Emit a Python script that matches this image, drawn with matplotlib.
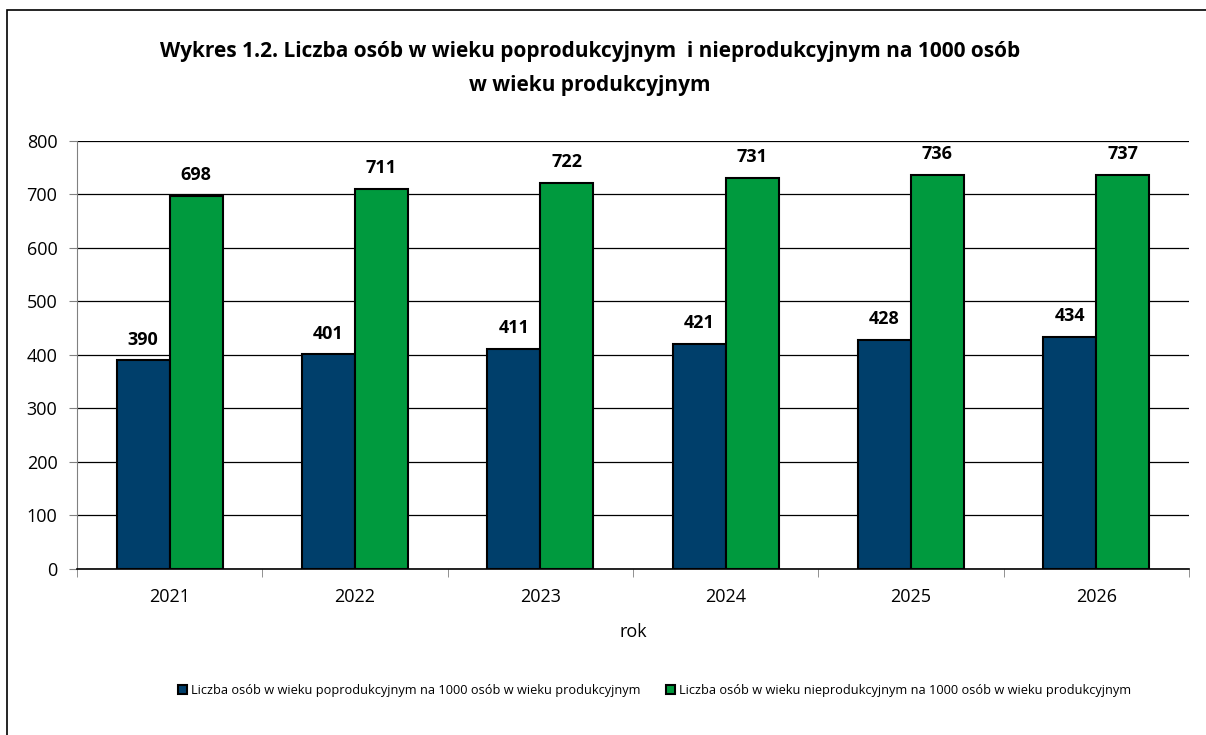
import numpy as np
import matplotlib.pyplot as plt
from matplotlib.patches import Rectangle

plt.rcParams['font.family'] = ['Open Sans', 'DejaVu Sans']

years = ['2021', '2022', '2023', '2024', '2025', '2026']
poprod = [390, 401, 411, 421, 428, 434]
nieprod = [698, 711, 722, 731, 736, 737]
label_poprod = 'Liczba osób w wieku poprodukcyjnym na 1000 osób w wieku produkcyjnym'
label_nieprod = 'Liczba osób w wieku nieprodukcyjnym na 1000 osób w wieku produkcyjnym'

blue = '#003f6b'
green = '#009a3e'

fig = plt.figure(figsize=(12.06, 7.35), dpi=100)
ax = fig.add_axes([0.0638, 0.2259, 0.922, 0.5823])

x = np.arange(len(years))
w = 1 / 3.5
b1 = ax.bar(x - w / 2, poprod, w, color=blue, edgecolor='black', linewidth=1.5, label=label_poprod, zorder=3)
b2 = ax.bar(x + w / 2, nieprod, w, color=green, edgecolor='black', linewidth=1.5, label=label_nieprod, zorder=3)

for bars in (b1, b2):
    for r in bars:
        ax.text(r.get_x() + r.get_width() / 2, r.get_height() + 22, '{}'.format(int(r.get_height())),
                ha='center', va='bottom', fontsize=13, fontweight='bold')

ax.set_xlim(-0.5, len(years) - 0.5)
ax.set_ylim(0, 800)
ax.set_yticks(range(0, 801, 100))
ax.grid(axis='y', color='black', linewidth=0.9, zorder=0)
ax.set_axisbelow(True)

for s in ['top', 'right']:
    ax.spines[s].set_visible(False)
ax.spines['left'].set_color('#808080')
ax.spines['bottom'].set_color('black')
ax.spines['bottom'].set_linewidth(1.2)

ax.set_xticks(x)
ax.set_xticklabels(years, fontsize=13)
ax.set_xticks(np.arange(-0.5, len(years), 1), minor=True)
ax.tick_params(axis='x', which='major', length=0, pad=14)
ax.tick_params(axis='x', which='minor', length=6, direction='out', color='#808080')
ax.tick_params(axis='y', length=6, color='#808080', labelsize=13, pad=8)
ax.set_xlabel('rok', fontsize=13, labelpad=12)

fig.text(0.489, 0.93, 'Wykres 1.2. Liczba osób w wieku poprodukcyjnym  i nieprodukcyjnym na 1000 osób',
         ha='center', va='center', fontsize=15, fontweight='bold')
fig.text(0.489, 0.884, 'w wieku produkcyjnym', ha='center', va='center', fontsize=15, fontweight='bold')

fig.legend(loc='center', bbox_to_anchor=(0.543, 0.06), ncol=2, frameon=False, fontsize=9.2,
           handlelength=0.7, handleheight=0.7, handletextpad=0.3, columnspacing=2.0)

fig.add_artist(Rectangle((7 / 1206, -0.1), 1.2, 1 - 10 / 735 + 0.1, transform=fig.transFigure,
                         fill=False, edgecolor='black', linewidth=1.2))

plt.savefig('out.png')
